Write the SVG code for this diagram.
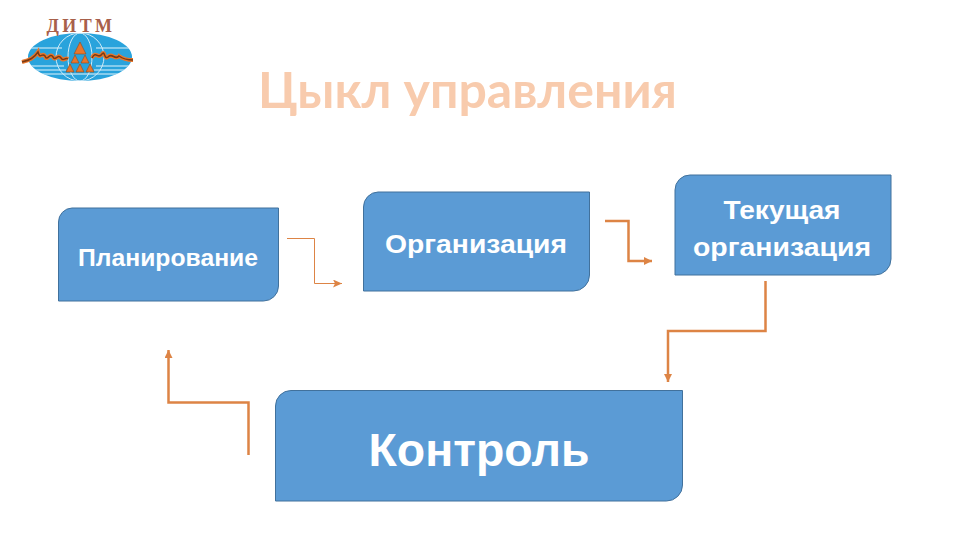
<svg xmlns="http://www.w3.org/2000/svg" width="960" height="540" viewBox="0 0 960 540">
<defs>
<marker id="a" markerUnits="userSpaceOnUse" markerWidth="10" markerHeight="8" refX="9" refY="4" orient="auto"><path d="M0 0L9 4L0 8L2 4Z" fill="#dd8445"/></marker>
<marker id="b" markerUnits="userSpaceOnUse" markerWidth="10" markerHeight="8" refX="8" refY="4" orient="auto"><path d="M0 0L8 4L0 8Z" fill="#dd8445"/></marker>
<clipPath id="e"><ellipse cx="80" cy="57" rx="52" ry="24"/></clipPath>
</defs>
<style>
text{font-family:"Liberation Sans",Arial,sans-serif;font-weight:700;text-anchor:middle}
.n{fill:#5b9bd5;stroke:#41719c;stroke-width:1}
.l{fill:#fff}
.c{fill:none;stroke:#dd8445;stroke-linejoin:miter}
.s{fill:none;stroke:#e3f4fb;stroke-width:1}
.t{fill:#e8762c;stroke:#8a4a20;stroke-width:.6}
</style>
<rect width="960" height="540" fill="#fff"/>
<g id="logo">
<ellipse cx="80" cy="57" rx="52" ry="24" fill="#29a3dc"/>
<g clip-path="url(#e)">
<path class="s" d="M28 48H62M96 48H132M28 66H64M96 66H132M28 70H66M94 70H132M28 74H132"/>
<circle cx="80" cy="57" r="24" fill="none" stroke="#cfeaf7" stroke-width="1"/>
<ellipse cx="80" cy="57" rx="12" ry="24" fill="none" stroke="#cfeaf7" stroke-width="1"/>
</g>
<path class="t" d="M80 42L86 54H74ZM75 55L79 63H71ZM85 55L89 63H81ZM70 64L74 72H66ZM80 64L84 72H76ZM90 64L94 72H86Z"/>
<path d="M22 62C30 60 34 58 38 52C40 60 42 52 45 56C47 62 50 52 53 57C55 62 58 53 61 58C63 62 65 57 68 59" fill="none" stroke="#e8762c" stroke-width="4"/>
<path d="M22 62C30 60 34 58 38 52C40 60 42 52 45 56C47 62 50 52 53 57C55 62 58 53 61 58C63 62 65 57 68 59" fill="none" stroke="#7a3a12" stroke-width="1.500"/>
<path d="M92 58C96 50 98 60 102 54C105 50 104 60 108 57C112 52 115 61 119 56C123 59 128 60 133 60" fill="none" stroke="#e8762c" stroke-width="4"/>
<path d="M92 58C96 50 98 60 102 54C105 50 104 60 108 57C112 52 115 61 119 56C123 59 128 60 133 60" fill="none" stroke="#7a3a12" stroke-width="1.500"/>
<text x="81" y="32" font-size="18" style="font-family:'Liberation Serif',serif;fill:#a8604a;letter-spacing:3.500px">ДИТМ</text>
</g>
<text x="467.500" y="108" font-size="50" style="font-family:Lato,sans-serif;fill:#f8cbad">Цыкл управления</text>
<g id="planning">
<path class="n" d="M72 208H278.500V286A15 15 0 0 1 263.500 301H58.500V222A14 14 0 0 1 72 208Z"/>
<text class="l" x="168" y="266" font-size="23" textLength="180" lengthAdjust="spacingAndGlyphs">Планирование</text>
</g>
<g id="organization">
<path class="n" d="M378 192H589.500V275A16 16 0 0 1 573.500 291H363.500V207A15 15 0 0 1 378 192Z"/>
<text class="l" x="476" y="253" font-size="25.500" textLength="182" lengthAdjust="spacingAndGlyphs">Организация</text>
</g>
<g id="current">
<path class="n" d="M690 175H891V259A16 16 0 0 1 875 275H675V190A15 15 0 0 1 690 175Z"/>
<text class="l" x="782" y="219" font-size="25.500" textLength="117" lengthAdjust="spacingAndGlyphs">Текущая</text>
<text class="l" x="782" y="256" font-size="25.500" textLength="178" lengthAdjust="spacingAndGlyphs">организация</text>
</g>
<g id="control">
<path class="n" d="M291 390.500H682.500V485A16 16 0 0 1 666.500 501H275.500V406A15.500 15.500 0 0 1 291 390.500Z"/>
<text class="l" x="479" y="466" font-size="47" textLength="221" lengthAdjust="spacingAndGlyphs">Контроль</text>
</g>
<g id="connectors">
<path class="c" stroke-width="1" marker-end="url(#a)" d="M287 238.500H314.500V283.500H342"/>
<path class="c" stroke-width="2.500" marker-end="url(#b)" d="M605 221H628.500V261H652"/>
<path class="c" stroke-width="2.500" marker-end="url(#b)" d="M765.500 281V331H668V382"/>
<path class="c" stroke-width="2.500" marker-end="url(#b)" d="M248.500 455V402.500H168.500V350"/>
</g>
</svg>
